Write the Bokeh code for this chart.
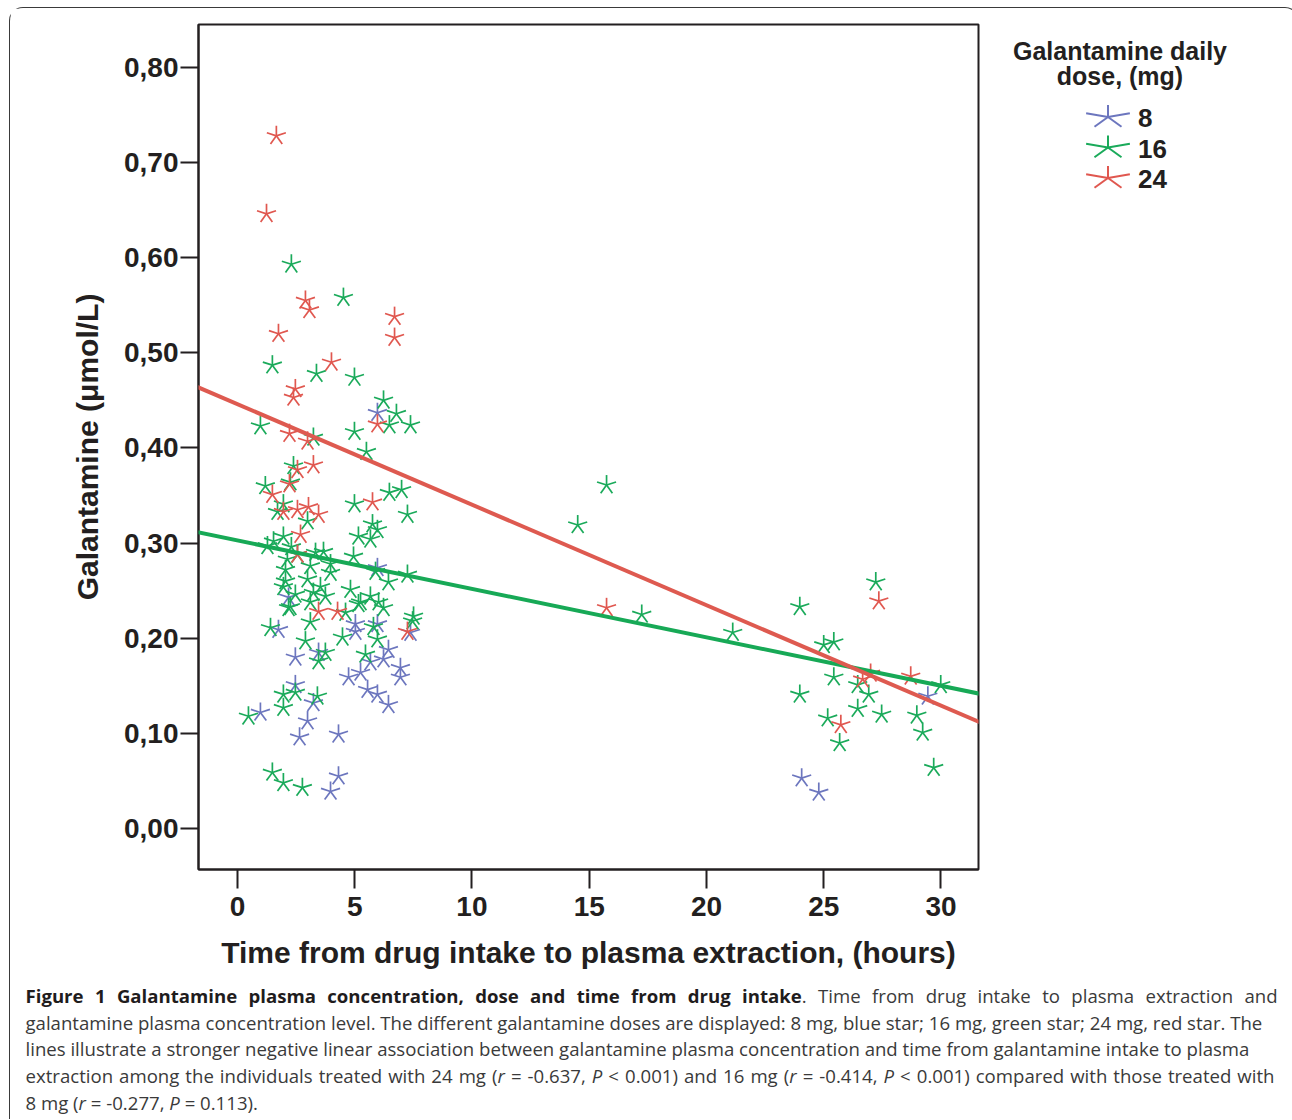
import math
from bokeh.plotting import figure
from bokeh.models import ColumnDataSource, Slope, FixedTicker, Range1d, Label, Div
from bokeh.layouts import row, column
from bokeh.embed import file_html
from bokeh.resources import INLINE

# ---------------- data ----------------
doses = ["8", "16", "24"]
dose_colors = ["#6C76BE", "#1AAA5A", "#E0574F"]

x_8mg = [5.97, 5.97, 2.18, 7.38, 5.03, 5.03, 5.97, 1.75, 2.47, 3.46, 5.67, 6.44, 6.23,
         6.95, 6.95, 4.74, 5.25, 5.55, 5.97, 6.44, 2.47, 3.24, 0.98, 2.99, 2.65, 4.31,
         4.31, 3.97, 29.44, 24.06, 24.79]
y_8mg = [0.437, 0.274, 0.243, 0.206, 0.215, 0.207, 0.215, 0.209, 0.180, 0.185, 0.175, 0.188, 0.178,
         0.169, 0.159, 0.159, 0.164, 0.146, 0.141, 0.130, 0.151, 0.132, 0.122, 0.113, 0.096, 0.099,
         0.055, 0.039, 0.139, 0.053, 0.038]

x_16mg = [2.30, 4.52, 1.49, 3.37, 4.99, 6.23, 6.78, 6.48, 7.38, 0.98, 3.24, 4.99, 5.50,
          1.19, 2.26, 2.39, 1.71, 2.99, 1.96, 4.99, 6.48, 7.00, 7.25, 5.76, 5.97, 5.16,
          5.67, 1.54, 1.96, 1.28, 2.56, 2.13, 3.33, 3.67, 4.95, 3.97, 2.05, 3.11, 5.89,
          7.25, 2.05, 2.99, 3.97, 6.44, 1.96, 3.54, 4.82, 3.24, 2.47, 5.67, 6.02, 5.16,
          2.18, 3.11, 3.75, 6.23, 7.51, 2.26, 4.61, 5.25, 7.47, 5.80, 1.41, 3.11, 2.90,
          4.48, 5.97, 3.75, 3.46, 5.46, 1.96, 2.47, 3.41, 1.96, 0.47, 1.49, 1.96, 2.77,
          2.30,
          15.74, 14.51, 17.24, 21.12, 23.98, 27.22, 25.00, 25.43, 25.43, 26.45, 26.92,
          29.99, 23.98, 26.45, 25.17, 25.68, 27.47, 28.97, 29.22, 29.69]
y_16mg = [0.593, 0.558, 0.487, 0.478, 0.474, 0.450, 0.436, 0.424, 0.424, 0.423, 0.411, 0.417, 0.396,
          0.360, 0.364, 0.381, 0.333, 0.323, 0.341, 0.341, 0.353, 0.356, 0.330, 0.320, 0.314, 0.307,
          0.304, 0.302, 0.307, 0.297, 0.288, 0.283, 0.290, 0.291, 0.286, 0.278, 0.272, 0.276, 0.270,
          0.267, 0.260, 0.262, 0.269, 0.259, 0.254, 0.254, 0.251, 0.248, 0.246, 0.244, 0.238, 0.236,
          0.232, 0.238, 0.244, 0.232, 0.223, 0.233, 0.227, 0.238, 0.218, 0.212, 0.211, 0.217, 0.197,
          0.201, 0.199, 0.185, 0.176, 0.183, 0.141, 0.143, 0.139, 0.127, 0.118, 0.059, 0.048, 0.043,
          0.296,
          0.361, 0.319, 0.225, 0.206, 0.233, 0.259, 0.193, 0.196, 0.159, 0.151, 0.141,
          0.151, 0.141, 0.126, 0.116, 0.090, 0.120, 0.119, 0.101, 0.064]

x_24mg = [1.66, 1.24, 2.90, 3.07, 6.70, 6.70, 1.75, 4.01, 2.47, 2.39, 5.97, 2.22, 2.99,
          2.56, 3.24, 2.22, 1.49, 1.96, 2.56, 3.03, 3.46, 5.76, 2.69, 2.56, 3.46, 4.27,
          7.25, 15.74, 27.35, 26.66, 27.00, 28.71, 25.73]
y_24mg = [0.728, 0.646, 0.555, 0.545, 0.538, 0.516, 0.520, 0.490, 0.462, 0.453, 0.425, 0.415, 0.407,
          0.377, 0.382, 0.362, 0.351, 0.333, 0.335, 0.338, 0.330, 0.343, 0.309, 0.288, 0.228, 0.228,
          0.207, 0.232, 0.239, 0.157, 0.163, 0.160, 0.109]

# fitted regression lines (dose, gradient, intercept)
fit_dose = ["16", "24"]
fit_gradient = [-0.00509, -0.01056]
fit_intercept = [0.3028, 0.4460]
fit_colors = ["#17A956", "#DE5A50"]

x_ticks = [0, 5, 10, 15, 20, 25, 30]
y_ticks = [0.0, 0.1, 0.2, 0.3, 0.4, 0.5, 0.6, 0.7, 0.8]
y_tick_labels = ["0,00", "0,10", "0,20", "0,30", "0,40", "0,50", "0,60", "0,70", "0,80"]

x_title = "Time from drug intake to plasma extraction, (hours)"
y_title = "Galantamine (\u03bcmol/L)"
legend_title = ["Galantamine daily", "dose, (mg)"]

caption_lines = [
    "<b style='color:#1f1c1d'>Figure 1 Galantamine plasma concentration, dose and time from drug intake</b>. "
    "Time from drug intake to plasma extraction and",
    "galantamine plasma concentration level. The different galantamine doses are displayed: 8 mg, blue star; "
    "16 mg, green star; 24 mg, red star. The",
    "lines illustrate a stronger negative linear association between galantamine plasma concentration and time "
    "from galantamine intake to plasma",
    "extraction among the individuals treated with 24 mg (<i>r</i> = -0.637, <i>P</i> &lt; 0.001) and 16 mg "
    "(<i>r</i> = -0.414, <i>P</i> &lt; 0.001) compared with those treated with",
    "8 mg (<i>r</i> = -0.277, <i>P</i> = 0.113).",
]
caption_justified = [True, False, False, True, False]
caption_widths = [1252, 1252, 1252, 1249, 1252]

# ---------------- styling ----------------
INK = "#231F20"
FONT = "Liberation Sans"
ARM_DEG = [90, 162, 234, 306, 18]

FIG_H = 967
B_TOP, B_BOT = 16, 106
FRAME_H = FIG_H - B_TOP - B_BOT
p = figure(width=970, height=FIG_H, x_range=Range1d(-1.66, 31.6), y_range=Range1d(-0.043, 0.845),
           output_backend="svg", toolbar_location=None,
           min_border_left=188, min_border_right=2, min_border_top=B_TOP, min_border_bottom=B_BOT,
           background_fill_color="white", border_fill_color="white")
p.outline_line_color = INK
p.outline_line_width = 2
p.grid.visible = False

series = [(x_8mg, y_8mg), (x_16mg, y_16mg), (x_24mg, y_24mg)]
for (xs, ys), col in zip(series, dose_colors):
    rx, ry, ra = [], [], []
    for xv, yv in zip(xs, ys):
        for d in ARM_DEG:
            rx.append(xv)
            ry.append(yv)
            ra.append(math.radians(d))
    src = ColumnDataSource(dict(x=rx, y=ry, angle=ra))
    p.ray(x="x", y="y", angle="angle", length=10, length_units="screen", source=src,
          line_color=col, line_width=1.7)

for g, b, c in zip(fit_gradient, fit_intercept, fit_colors):
    p.add_layout(Slope(gradient=g, y_intercept=b, line_color=c, line_width=4))

for ax in (p.xaxis[0], p.yaxis[0]):
    ax.axis_line_color = INK
    ax.axis_line_width = 2
    ax.major_tick_line_color = INK
    ax.major_tick_line_width = 2
    ax.major_tick_in = 0
    ax.minor_tick_line_color = None
    ax.major_label_text_font = FONT
    ax.major_label_text_font_style = "bold"
    ax.major_label_text_font_size = "28px"
    ax.major_label_text_color = INK
    ax.axis_label_text_font = FONT
    ax.axis_label_text_font_style = "bold"
    ax.axis_label_text_font_size = "30px"
    ax.axis_label_text_color = INK

p.xaxis.ticker = FixedTicker(ticks=x_ticks)
p.xaxis.major_tick_out = 19
p.xaxis.major_label_standoff = 8
p.xaxis.axis_label = x_title
p.xaxis.axis_label_standoff = 17

p.yaxis.ticker = FixedTicker(ticks=y_ticks)
p.yaxis.major_label_overrides = dict(zip(y_ticks, y_tick_labels))
p.yaxis.major_tick_out = 18
p.yaxis.major_label_standoff = 2
p.yaxis.axis_label = y_title
p.yaxis.axis_label_standoff = 17

# ---------------- legend panel ----------------
LW = 308
leg = figure(width=LW, height=FIG_H, x_range=Range1d(0, LW), y_range=Range1d(0, FRAME_H),
             output_backend="svg", toolbar_location=None,
             min_border_left=0, min_border_right=0, min_border_top=B_TOP, min_border_bottom=B_BOT,
             x_axis_type=None, y_axis_type=None, outline_line_color=None,
             background_fill_color="white", border_fill_color="white")
leg.grid.visible = False


def down(yy):
    """distance (px) from the top of the legend panel -> frame y coordinate"""
    return FRAME_H - (yy - B_TOP)


TEXT_SHIFT = 9  # labels render a little below the requested baseline

for i, t in enumerate(legend_title):
    leg.add_layout(Label(x=139.5, y=down(51.5 - TEXT_SHIFT + 25 * i), text=t, text_align="center",
                         text_baseline="alphabetic", text_font=FONT, text_font_style="bold",
                         text_font_size="25px", text_color=INK))

gx0, gy0, gx1, gy1, gc = [], [], [], [], []
for i, (d, col) in enumerate(zip(doses, dose_colors)):
    cy = 108.5 + 30.5 * i
    cx = 127.5
    for a in ARM_DEG:
        gx0.append(cx)
        gy0.append(down(cy))
        gx1.append(cx + 23 * math.cos(math.radians(a)))
        gy1.append(down(cy) + 12 * math.sin(math.radians(a)))
        gc.append(col)
    leg.add_layout(Label(x=157.5, y=down(cy + 10 - TEXT_SHIFT), text=d, text_align="left",
                         text_baseline="alphabetic", text_font=FONT, text_font_style="bold",
                         text_font_size="26px", text_color=INK))
leg.segment(x0="x0", y0="y0", x1="x1", y1="y1", line_color="c", line_width=2,
            source=ColumnDataSource(dict(x0=gx0, y0=gy0, x1=gx1, y1=gy1, c=gc)))

# ---------------- caption ----------------
parts = []
for ln, just, w in zip(caption_lines, caption_justified, caption_widths):
    if just:
        st = f"width:{w}px;text-align:justify;text-align-last:justify;white-space:normal"
    else:
        st = f"width:{w}px;text-align:left;white-space:nowrap"
    parts.append(f"<div style='{st}'>{ln}</div>")
cap = Div(text=f"<div style=\"font-family:'Open Sans';font-size:18.6px;line-height:26.7px;"
               f"color:#3a3a3a;padding:3px 0 0 10.5px\">{''.join(parts)}</div>",
          width=1278, height=134)

layout = column(row(p, leg), cap,
                styles={"border": "1.5px solid #3a3a3a", "border-bottom": "none",
                        "border-radius": "14px 14px 0 0", "background": "white",
                        "margin-left": "9px", "margin-top": "7px"})

open("out.html", "w").write(file_html(layout, INLINE))
